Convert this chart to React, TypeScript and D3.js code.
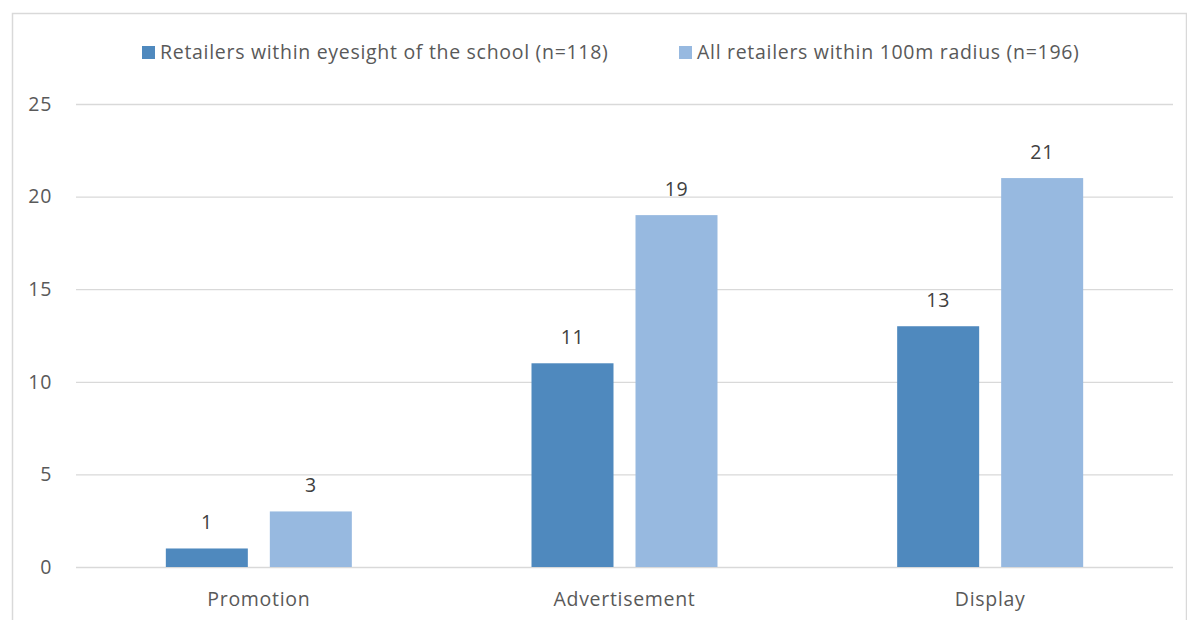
import React from "react";
import * as d3 from "d3";

const categories = ["Promotion", "Advertisement", "Display"];
const seriesNames = [
  "Retailers within eyesight of the school (n=118)",
  "All retailers within 100m radius (n=196)",
];
const eyesightValues = [1, 11, 13];
const radiusValues = [3, 19, 21];
const yTicks = [0, 5, 10, 15, 20, 25];
const colors = ["#4F89BE", "#97B9E0"];

const W = 1187;
const H = 620;
const FONT = "Open Sans, Calibri, sans-serif";
const FS = 19.5;
const LS = 0.7;
const TEXT = "#595959";

export default function App() {
  const left = 76;
  const right = 1173;
  const top = 104;
  const bottom = 567;
  const x = d3.scaleBand<string>().domain(categories).range([left, right]).paddingInner(0).paddingOuter(0);
  const y = d3.scaleLinear().domain([0, 25]).range([bottom, top]);
  const barW = 82;
  const gap = 22;
  const series = [eyesightValues, radiusValues];
  const textProps = { fontFamily: FONT, fontSize: FS, letterSpacing: LS };

  return (
    <div style={{ position: "absolute", left: 0, top: 0 }}>
      <svg width={W} height={H} style={{ display: "block" }}>
        <rect x={0} y={0} width={W} height={H} fill="#fff" />
        <path d={`M12.5,${H} V13.5 H1186.5 V${H}`} fill="none" stroke="#D9D9D9" strokeWidth={1.5} />
        {yTicks.map((t) => (
          <g key={t}>
            <line x1={left} x2={right} y1={y(t) + 0.5} y2={y(t) + 0.5} stroke="#D9D9D9" strokeWidth={1.3} />
            <text x={52} y={y(t)} dy="0.35em" textAnchor="end" {...textProps} fill={TEXT}>
              {t}
            </text>
          </g>
        ))}
        {categories.map((c, i) => {
          const cx = (x(c) as number) + x.bandwidth() / 2;
          return (
            <g key={c}>
              {series.map((vals, s) => {
                const bx = s === 0 ? cx - gap / 2 - barW : cx + gap / 2;
                return (
                  <g key={s}>
                    <rect x={bx} y={y(vals[i])} width={barW} height={y(0) - y(vals[i])} fill={colors[s]} />
                    <text x={bx + barW / 2} y={y(vals[i]) - 26} dy="0.35em" textAnchor="middle" {...textProps} fill="#404040">
                      {vals[i]}
                    </text>
                  </g>
                );
              })}
              <text x={cx} y={599} dy="0.35em" textAnchor="middle" {...textProps} fill={TEXT}>
                {c}
              </text>
            </g>
          );
        })}
        {/* legend */}
        <rect x={142} y={46} width={13} height={13} fill={colors[0]} />
        <text x={160} y={52} dy="0.35em" {...textProps} fill={TEXT}>
          {seriesNames[0]}
        </text>
        <rect x={679} y={46} width={13} height={13} fill={colors[1]} />
        <text x={697} y={52} dy="0.35em" {...textProps} fill={TEXT}>
          {seriesNames[1]}
        </text>
      </svg>
    </div>
  );
}
